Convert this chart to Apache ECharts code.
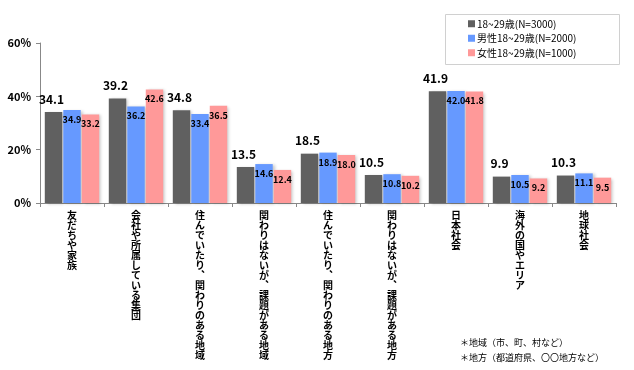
<!DOCTYPE html>
<html><head><meta charset="utf-8">
<script src="https://cdn.jsdelivr.net/npm/echarts@6/dist/echarts.min.js"></script>
<style>html,body{margin:0;padding:0;background:#fff}#c{width:634px;height:370px}</style>
</head><body><div id="c"></div>
<script>
const categories = ['友だちや家族','会社や所属している集団','住んでいたり︑関わりのある地域','関わりはないが︑課題がある地域','住んでいたり︑関わりのある地方','関わりはないが︑課題がある地方','日本社会','海外の国やエリア','地球社会'];
const seriesNames = ['18~29歳(N=3000)','男性18~29歳(N=2000)','女性18~29歳(N=1000)'];
const allValues = [34.1, 39.2, 34.8, 13.5, 18.5, 10.5, 41.9, 9.9, 10.3];
const maleValues = [34.9, 36.2, 33.4, 14.6, 18.9, 10.8, 42.0, 10.5, 11.1];
const femaleValues = [33.2, 42.6, 36.5, 12.4, 18.0, 10.2, 41.8, 9.2, 9.5];
const yTicks = [0, 20, 40, 60];
const notes = ['＊地域（市、町、村など）', '＊地方（都道府県、〇〇地方など）'];

const FONT = '"Noto Sans CJK JP", "Noto Sans", sans-serif';
const chart = echarts.init(document.getElementById('c'));
const shadow = {shadowColor:'rgba(0,0,0,0.22)', shadowBlur:3, shadowOffsetX:2, shadowOffsetY:1};
const smallLabel = {show:true, position:'insideTop', distance:5, fontSize:9, fontWeight:'bold', color:'#000', fontFamily:FONT, formatter: p => p.value.toFixed(1)};
chart.setOption({
  animation:false,
  backgroundColor:'#fff',
  textStyle:{fontFamily:FONT},
  grid:{left:40, right:18, top:43, bottom:167},
  legend:{
    orient:'vertical', left:468, top:18.5, itemWidth:7, itemHeight:7, itemGap:4, icon:'rect', padding:0,
    textStyle:{fontSize:10, color:'#000', fontFamily:FONT, lineHeight:10.5, padding:[0,0,0,-3]},
    data:seriesNames
  },
  graphic:[
    {type:'rect', left:443, top:12, shape:{width:174, height:50}, style:{fill:'none', stroke:'#d0d0d0', lineWidth:1}, z:-1},
    {type:'text', left:460, top:338, style:{text:notes[0], fontSize:9, fill:'#000', fontFamily:FONT}},
    {type:'text', left:460, top:353, style:{text:notes[1], fontSize:9, fill:'#000', fontFamily:FONT}}
  ],
  xAxis:{
    type:'category', data:categories,
    axisLine:{lineStyle:{color:'#888'}},
    axisTick:{show:true, alignWithLabel:false, length:4, lineStyle:{color:'#888'}},
    axisLabel:{interval:0, margin:7, fontSize:10, lineHeight:10, fontWeight:'bold', color:'#000', verticalAlign:'top', fontFamily:FONT,
      formatter: v => v.split('').join('\n')}
  },
  yAxis:{
    type:'value', min:yTicks[0], max:yTicks[yTicks.length-1], interval:20,
    axisLine:{show:true, lineStyle:{color:'#888'}},
    axisTick:{show:true, length:4, lineStyle:{color:'#888'}},
    splitLine:{show:false},
    axisLabel:{formatter:'{value}%', fontSize:11, fontWeight:'bold', color:'#000', margin:9, fontFamily:FONT}
  },
  series:[
    {name:seriesNames[0], type:'bar', data:allValues, barGap:'6%', barCategoryGap:'15%',
      itemStyle:Object.assign({color:'#606060'}, shadow),
      label:{show:true, position:'top', distance:7, offset:[-2,0], fontSize:12, fontWeight:'bold', color:'#000', fontFamily:FONT, formatter: p => p.value.toFixed(1)}},
    {name:seriesNames[1], type:'bar', data:maleValues,
      itemStyle:Object.assign({color:'#6699FF'}, shadow), label:smallLabel},
    {name:seriesNames[2], type:'bar', data:femaleValues,
      itemStyle:Object.assign({color:'#FF9999'}, shadow), label:smallLabel}
  ]
});
</script></body></html>
